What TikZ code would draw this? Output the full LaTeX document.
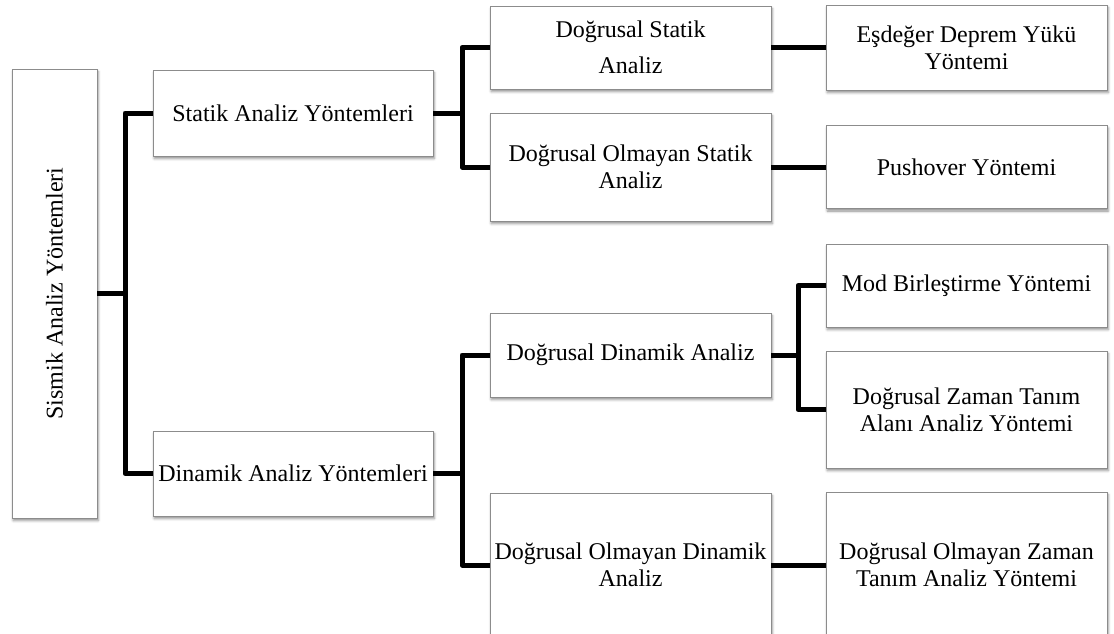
\documentclass[tikz,border=0pt]{standalone}
\usepackage{fontspec}
\setmainfont{Liberation Serif}
\usetikzlibrary{shadows.blur}
\begin{document}
\begin{tikzpicture}[x=1pt,y=1pt,
  box/.style={draw=black!45, line width=0.9pt, fill=white, rectangle, inner sep=2pt, align=center,
    font=\fontsize{24}{27}\selectfont,
    blur shadow={shadow xshift=1.2pt, shadow yshift=-2.5pt, shadow blur radius=2.5pt, shadow opacity=45}},
  conn/.style={line width=5pt, line join=round, black}]
\useasboundingbox (0,0) rectangle (1114,-634);
% level 0
\node[box, minimum width=85, minimum height=449] (root) at (54.5,-293.5) {\rotatebox{90}{Sismik Analiz Yöntemleri}};
% level 1
\node[box, minimum width=280, minimum height=86] (stat) at (293,-113) {Statik Analiz Yöntemleri};
\node[box, minimum width=280, minimum height=85] (dyn) at (293,-473.5) {Dinamik Analiz Yöntemleri};
% level 2
\node[box, minimum width=281, minimum height=83] (ds) at (630.5,-47.5) {Doğrusal Statik\\[9pt]Analiz};
\node[box, minimum width=281, minimum height=108] (dos) at (630.5,-167) {Doğrusal Olmayan Statik\\Analiz};
\node[box, minimum width=281, minimum height=84] (dd) at (630.5,-355) {Doğrusal Dinamik Analiz};
\node[box, minimum width=281, minimum height=144] (dod) at (630.5,-565) {Doğrusal Olmayan Dinamik\\Analiz};
% level 3
\node[box, minimum width=281, minimum height=85] (esd) at (966.5,-47.5) {Eşdeğer Deprem Yükü\\Yöntemi};
\node[box, minimum width=281, minimum height=83] (push) at (966.5,-167) {Pushover Yöntemi};
\node[box, minimum width=281, minimum height=83] (mod) at (966.5,-285.5) {Mod Birleştirme Yöntemi};
\node[box, minimum width=281, minimum height=117] (dzt) at (966.5,-409.5) {Doğrusal Zaman Tanım\\Alanı Analiz Yöntemi};
\node[box, minimum width=281, minimum height=146] (doz) at (966.5,-565) {Doğrusal Olmayan Zaman\\Tanım Analiz Yöntemi};
% junctions
\coordinate (j1) at (125,-293.5);
\coordinate (j2) at (462,-113);
\coordinate (j3) at (462,-473.5);
\coordinate (j4) at (798,-355);
% connectors
\draw[conn] (root.east) -- (j1);
\draw[conn] (stat.west) -| (j1) |- (dyn.west);
\draw[conn] (stat.east) -- (j2);
\draw[conn] (ds.west) -| (j2) |- (dos.west);
\draw[conn] (dyn.east) -- (j3);
\draw[conn] (dd.west) -| (j3) |- (dod.west);
\draw[conn] (ds.east) -- (esd.west);
\draw[conn] (dos.east) -- (push.west);
\draw[conn] (dd.east) -- (j4);
\draw[conn] (mod.west) -| (j4) |- (dzt.west);
\draw[conn] (dod.east) -- (doz.west);
\end{tikzpicture}
\end{document}
